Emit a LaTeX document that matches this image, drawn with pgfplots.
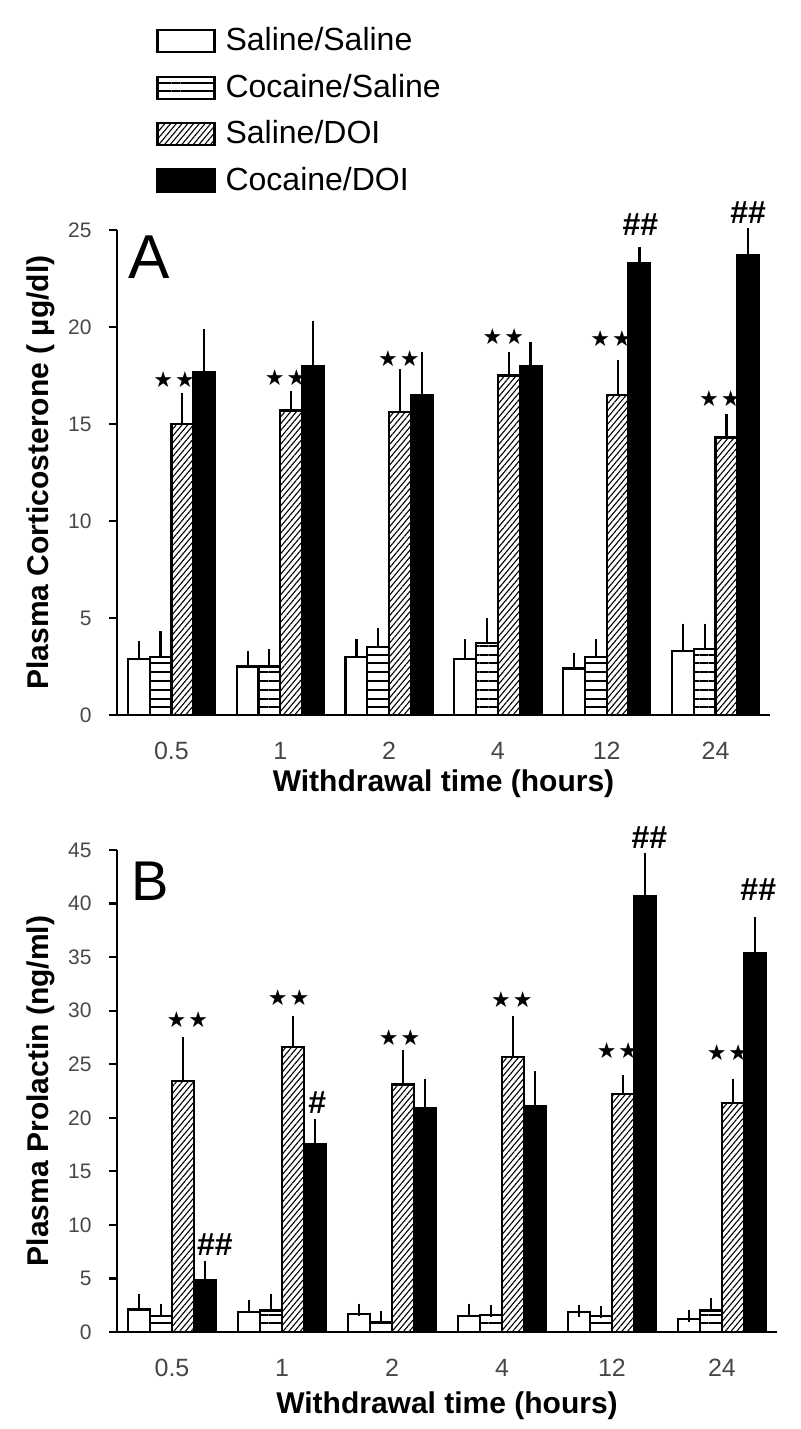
\documentclass[border=0pt]{standalone}
\usepackage{fontspec}
\setmainfont{Liberation Sans}
\newfontfamily\dejavu{DejaVu Sans}
\usepackage{pgfplots}
\pgfplotsset{compat=1.18}
\usepackage{pgfplotstable}
\usetikzlibrary{patterns.meta}

\pgfplotstableread{
x ss sse cs cse sd sde cd cde
0 2.9 0.6 3.0 1.0 15.0 1.3 17.7 1.9
1 2.5 0.5 2.5 0.6 15.7 0.7 18.0 2.0
2 3.0 0.6 3.5 0.7 15.6 1.9 16.5 1.9
3 2.9 0.7 3.7 1.0 17.5 0.9 18.0 0.9
4 2.4 0.5 3.0 0.6 16.5 1.5 23.3 0.5
5 3.3 1.1 3.4 1.0 14.3 0.9 23.7 1.1
}\dataA

\pgfplotstableread{
x ss sse cs cse sd sde cd cde
0 2.1 0.9 1.5 0.6 23.4 3.6 4.8 1.3
1 1.9 0.5 2.0 1.0 26.6 2.3 17.5 1.8
2 1.7 0.4 0.9 0.5 23.1 2.7 20.9 2.2
3 1.5 0.6 1.6 0.4 25.7 3.2 21.1 2.7
4 1.9 0.1 1.5 0.4 22.2 1.2 40.7 3.5
5 1.2 0.3 2.0 0.6 21.4 1.7 35.4 2.8
}\dataB

\newcommand{\sts}{{\dejavu\fontsize{11}{13}\selectfont ★\hspace{1pt}★}}
\newcommand{\hh}{\bfseries\fontsize{16}{18}\selectfont}

\pgfplotsset{
  panel/.style={
    scale only axis, anchor=south west,
    xmin=-0.5, xmax=5.5, ymin=0,
    axis lines*=left, axis line style={line width=1.1pt, black},
    clip=false,
    xtick={0,...,5}, xticklabels={0.5,1,2,4,12,24},
    xtick style={draw=none},
    ytick style={line width=1.1pt, black},
    tick align=outside, major tick length=4pt,
    ybar=0pt, bar width=0.2,
    /pgf/number format/assume math mode=true,
    yticklabel style={font=\fontsize{10.5}{12}\selectfont, text=black!72, inner sep=0pt, anchor=east, xshift=-8.5pt},
    xticklabel style={font=\fontsize{12.5}{14}\selectfont, text=black!72, inner sep=0pt, anchor=north, yshift=-9.5pt},
    xlabel style={font=\bfseries\fontsize{15}{18}\selectfont, at={(axis description cs:0.5,0)}, anchor=north, inner sep=0pt, yshift=-27pt},
    ylabel style={font=\bfseries\fontsize{15}{18}\selectfont, anchor=center, inner sep=0pt},
    error bars/y dir=plus, error bars/y explicit,
    error bars/error bar style={line width=1.1pt, black},
    error bars/error mark options={line width=1.1pt, mark size=3pt, black},
    every axis plot/.append style={draw=black, line width=1.1pt},
    legend image code/.code={\draw[#1] (0pt,-5.5pt) rectangle (28.5pt,5.5pt);},
  },
  pSS/.style={fill=white},
  pCS/.style={pattern={Lines[angle=0,distance=4.4pt,line width=1pt]}, pattern color=black},
  pSD/.style={pattern={Lines[angle=50,distance=2.2pt,line width=0.55pt]}, pattern color=black},
  pCD/.style={fill=black},
}

\begin{document}
\begin{tikzpicture}
\useasboundingbox (0,0) rectangle (400pt,714.5pt);

\begin{axis}[panel,
  at={(58.5pt,357pt)}, width=326.5pt, height=242.5pt,
  ymax=25, ytick={0,5,...,25},
  xlabel={Withdrawal time (hours)},
  ylabel={Plasma Corticosterone ( \textmu g/dl)},
  ylabel style={at={(axis description cs:-0.1164,0.5)}},
  legend style={at={(0.0597,1.418)}, anchor=north west, draw=none, fill=none,
    inner xsep=0pt, inner ysep=0pt, nodes={inner sep=0pt, text depth=0.2em},
    column sep=5pt, row sep=9.6pt, font=\fontsize{16}{18}\selectfont, cells={anchor=west}},
  legend cell align=left,
]
\addplot[pSS] table[x=x, y=ss, y error=sse] {\dataA};
\addlegendentry{Saline/Saline}
\addplot[pCS] table[x=x, y=cs, y error=cse] {\dataA};
\addlegendentry{Cocaine/Saline}
\addplot[pSD] table[x=x, y=sd, y error=sde] {\dataA};
\addlegendentry{Saline/DOI}
\addplot[pCD] table[x=x, y=cd, y error=cde] {\dataA};
\addlegendentry{Cocaine/DOI}
\node[font=\fontsize{31}{34}\selectfont] at (axis description cs:0.05,0.943) {A};
\node at (axis cs:0.025,17.3) {\sts};
\node at (axis cs:1.05,17.4) {\sts};
\node at (axis cs:2.09,18.35) {\sts};
\node at (axis cs:3.05,19.5) {\sts};
\node at (axis cs:4.04,19.4) {\sts};
\node at (axis cs:5.04,16.3) {\sts};
\node[font=\hh] at (axis cs:4.31,25.3) {\#\#};
\node[font=\hh] at (axis cs:5.30,25.9) {\#\#};
\end{axis}

\begin{axis}[panel,
  at={(58.5pt,48.5pt)}, width=330pt, height=241pt,
  ymax=45, ytick={0,5,...,45},
  xlabel={Withdrawal time (hours)},
  xlabel style={yshift=-2.5pt},
  ylabel={Plasma Prolactin (ng/ml)},
  ylabel style={at={(axis description cs:-0.1152,0.5)}},
]
\addplot[pSS] table[x=x, y=ss, y error=sse] {\dataB};
\addplot[pCS] table[x=x, y=cs, y error=cse] {\dataB};
\addplot[pSD] table[x=x, y=sd, y error=sde] {\dataB};
\addplot[pCD] table[x=x, y=cd, y error=cde] {\dataB};
\node[font=\fontsize{28}{31}\selectfont] at (axis description cs:0.05,0.936) {B};
\node at (axis cs:0.14,29.2) {\sts};
\node[font=\hh] at (axis cs:0.39,8.2) {\#\#};
\node at (axis cs:1.06,31.2) {\sts};
\node[font=\hh] at (axis cs:1.32,21.4) {\#};
\node at (axis cs:2.07,27.5) {\sts};
\node at (axis cs:3.09,31.0) {\sts};
\node at (axis cs:4.05,26.3) {\sts};
\node[font=\hh] at (axis cs:4.34,46.2) {\#\#};
\node at (axis cs:5.05,26.1) {\sts};
\node[font=\hh] at (axis cs:5.33,41.3) {\#\#};
\end{axis}
\end{tikzpicture}
\end{document}
